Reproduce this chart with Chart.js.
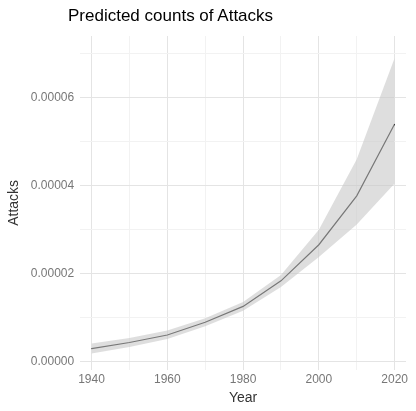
<!DOCTYPE html>
<html><head><meta charset="utf-8">
<script src="https://cdn.jsdelivr.net/npm/chart.js@4"></script>
<style>body{margin:0;background:#fff}#wrap{width:416px;height:411px;position:relative}
#t{position:absolute;left:68px;top:6px;font:17px 'Liberation Sans',sans-serif;color:#000}</style>
</head><body><div id="wrap"><div id="t">Predicted counts of Attacks</div><canvas id="c"></canvas></div>
<script>
var years = [1940, 1950, 1960, 1970, 1980, 1990, 2000, 2010, 2020]
var predicted = [0.0000030, 0.0000044, 0.0000061, 0.0000090, 0.0000126, 0.0000184, 0.0000266, 0.0000377, 0.0000540]
var upper = [0.0000042, 0.0000054, 0.0000071, 0.0000099, 0.0000136, 0.0000197, 0.0000300, 0.0000460, 0.0000690]
var lower = [0.0000019, 0.0000034, 0.0000052, 0.0000081, 0.0000116, 0.0000170, 0.0000238, 0.0000312, 0.0000405]

function pts(arr) { return years.map((y, i) => ({ x: y, y: arr[i] })) }

new Chart(document.getElementById('c'), {
  type: 'line',
  data: {
    datasets: [
      { data: pts(upper), borderWidth: 0, pointRadius: 0, fill: '+1', backgroundColor: 'rgba(200,200,200,0.6)' },
      { data: pts(lower), borderWidth: 0, pointRadius: 0, fill: false },
      { data: pts(predicted), borderColor: '#000', borderWidth: 1.2, pointRadius: 0, fill: false },
    ],
  },
  options: {
    responsive: true, maintainAspectRatio: false, animation: false,
    layout: { padding: { left: 4, right: 10, top: 36, bottom: 4 } },
    plugins: { legend: { display: false }, tooltip: { enabled: false } },
    scales: {
      x: {
        type: 'linear', min: 1937, max: 2023,
        afterBuildTicks: (s) => { s.ticks = [1940,1950,1960,1970,1980,1990,2000,2010,2020].map(v => ({ value: v })) },
        ticks: { color: '#777', font: { family: 'Liberation Sans', size: 12 }, autoSkip: false, maxRotation: 0,
          callback: (v) => (v % 20 === 0 ? v : '') },
        grid: { color: (c) => (c.tick && c.tick.value % 20 === 0 ? '#e4e4e4' : '#f2f2f2'), drawTicks: false },
        border: { display: false },
        title: { display: true, text: 'Year', color: '#333', font: { family: 'Liberation Sans', size: 14 }, padding: 0 },
      },
      y: {
        min: -0.0000018, max: 0.000074,
        afterBuildTicks: (s) => { s.ticks = [0,1,2,3,4,5,6,7].map(v => ({ value: v * 0.00001 })) },
        ticks: { color: '#777', font: { family: 'Liberation Sans', size: 12 }, autoSkip: false, padding: 6,
          callback: (v) => (Math.round(v * 1e5) % 2 === 0 ? v.toFixed(5) : '') },
        grid: { color: (c) => (c.tick && Math.round(c.tick.value * 1e5) % 2 === 0 ? '#e4e4e4' : '#f2f2f2'), drawTicks: false },
        border: { display: false },
        title: { display: true, text: 'Attacks', color: '#333', font: { family: 'Liberation Sans', size: 14 }, padding: 2 },
      },
    },
  },
})
</script></body></html>
